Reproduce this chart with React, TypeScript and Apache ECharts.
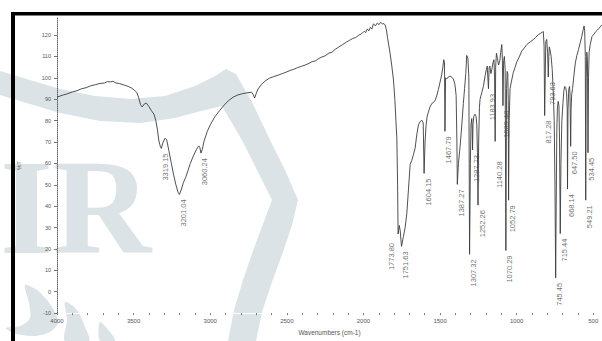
import React, { useEffect, useRef } from 'react';
import * as echarts from 'echarts';

// Continuous parts of the IR trace: [wavenumber (cm-1), %T]
const tracePoints: [number, number][] = [
  [4000, 91.0], [3960, 92.0], [3930, 92.6], [3900, 93.4], [3870, 94.0], [3840, 94.9],
  [3810, 95.4], [3780, 96.3], [3750, 96.8], [3720, 97.4], [3690, 97.6], [3670, 98.3],
  [3652, 98.1], [3635, 98.4], [3615, 97.6], [3590, 97.3], [3560, 96.6], [3535, 96.0],
  [3515, 95.3], [3495, 94.3], [3480, 93.2], [3468, 91.0], [3455, 87.5], [3444, 86.4],
  [3430, 87.8], [3417, 88.2], [3400, 86.6], [3385, 84.8], [3367, 83.0], [3355, 80.0],
  [3345, 76.0], [3335, 70.5], [3325, 67.8], [3310, 69.5], [3295, 71.8], [3284, 71.0],
  [3270, 66.0], [3255, 60.5], [3240, 55.0], [3225, 50.3], [3210, 46.5], [3190, 47.5],
  [3175, 51.0], [3160, 53.5], [3148, 56.0], [3130, 60.0], [3110, 63.5], [3090, 66.5],
  [3075, 68.2], [3068, 67.5], [3052, 66.5], [3040, 70.5], [3020, 74.8], [3000, 78.0],
  [2970, 81.8], [2940, 84.6], [2910, 87.2], [2880, 89.4], [2850, 91.0], [2820, 92.0],
  [2790, 92.6], [2760, 93.0], [2730, 93.3], [2718, 92.0], [2710, 90.6], [2700, 92.6],
  [2688, 94.8], [2665, 97.0], [2640, 98.6], [2615, 99.8], [2585, 100.6], [2555, 101.3],
  [2530, 102.0], [2500, 102.8], [2475, 103.6], [2455, 104.0], [2430, 104.8], [2405, 105.4],
  [2380, 106.0], [2355, 106.8], [2335, 107.6], [2315, 107.9], [2295, 108.9], [2270, 109.8],
  [2250, 110.3], [2225, 111.6], [2205, 112.0], [2185, 113.3], [2160, 114.5], [2135, 115.6],
  [2110, 116.8], [2090, 117.6], [2070, 118.4], [2050, 118.9], [2030, 120.0], [2012, 120.6],
  [2000, 121.5], [1995, 121.8], [1985, 121.2], [1975, 122.9], [1965, 122.0], [1955, 123.6],
  [1945, 122.8], [1935, 125.3], [1922, 124.3], [1910, 125.6], [1898, 124.9], [1888, 126.0],
  [1876, 125.2], [1866, 125.4], [1858, 124.6], [1850, 122.5], [1843, 119.0], [1837, 116.3],
  [1826, 111.5], [1815, 105.6], [1804, 99.0], [1795, 90.0], [1788, 80.0], [1782, 72.0],
  [1777, 50.0], [1766, 31.0], [1760, 28.5], [1739, 25.8], [1728, 30.0], [1717, 36.5],
  [1706, 48.0], [1695, 59.5], [1684, 61.5], [1674, 64.0], [1663, 67.0], [1652, 73.3],
  [1641, 78.0], [1630, 79.5], [1619, 80.2], [1610, 79.0], [1598, 70.0], [1591, 78.0],
  [1584, 82.0], [1576, 84.0], [1565, 86.5], [1554, 88.0], [1543, 88.5], [1532, 89.5],
  [1520, 92.0], [1511, 94.5], [1500, 98.0], [1489, 101.5], [1482, 105.0], [1476, 108.5],
  [1471, 107.0], [1464, 100.0], [1456, 99.5], [1445, 100.5], [1434, 100.8], [1423, 100.3],
  [1413, 99.5], [1403, 97.0], [1395, 91.8], [1390, 70.0], [1380, 60.0], [1369, 68.0],
  [1358, 78.0], [1348, 88.0], [1340, 95.0], [1332, 102.0], [1326, 110.5], [1318, 109.0],
  [1312, 100.0], [1302, 60.0], [1298, 78.0], [1293, 81.0], [1290, 76.0], [1285, 78.0],
  [1280, 82.0], [1272, 83.0], [1265, 82.0], [1260, 78.0], [1256, 65.0], [1248, 70.0],
  [1243, 86.0], [1239, 90.0], [1228, 93.0], [1217, 96.0], [1206, 101.0], [1198, 104.0],
  [1192, 105.5], [1188, 100.0], [1180, 104.5], [1175, 105.5], [1168, 102.0], [1162, 104.0],
  [1155, 107.0], [1148, 108.5], [1144, 100.0], [1137, 105.0], [1132, 111.5], [1125, 109.0],
  [1118, 106.0], [1110, 108.0], [1104, 112.0], [1097, 115.6], [1093, 108.0], [1085, 108.0],
  [1080, 110.0], [1075, 104.0], [1066, 95.0], [1062, 103.0], [1058, 102.0], [1055, 90.0],
  [1049, 80.0], [1043, 95.0], [1035, 98.0], [1022, 102.5], [1010, 105.0], [999, 107.5],
  [985, 109.5], [967, 112.5], [950, 114.0], [934, 115.6], [912, 116.8], [891, 117.9],
  [875, 119.0], [859, 120.2], [845, 120.8], [832, 121.4], [826, 121.7], [821, 114.8],
  [810, 117.0], [804, 118.0], [798, 112.0], [790, 110.0], [787, 114.5], [782, 113.0],
  [775, 110.0], [768, 104.0], [762, 95.0], [755, 80.0], [750, 50.0], [742, 40.0],
  [738, 75.0], [734, 86.0], [729, 89.0], [724, 87.0], [720, 70.0], [711, 60.0],
  [705, 80.0], [698, 88.0], [692, 94.0], [686, 96.0], [680, 95.5], [674, 93.0],
  [670, 85.0], [665, 85.0], [660, 94.5], [655, 96.0], [652, 93.0], [645, 85.0],
  [641, 92.0], [635, 95.0], [628, 100.0], [617, 107.0], [607, 110.5], [596, 113.3],
  [585, 116.5], [575, 119.4], [566, 122.5], [560, 124.3], [556, 122.0], [552, 110.0],
  [546, 100.0], [542, 112.0], [538, 108.0], [531, 100.0], [527, 112.0], [520, 115.5],
  [508, 119.4], [495, 120.5], [483, 121.7], [472, 122.4], [462, 123.2], [451, 124.2],
  [443, 124.8],
];

// Labelled absorption minima
const peakWavenumbers = [
  3319.15, 3201.04, 3060.24, 1773.8, 1751.63, 1604.15, 1467.79, 1387.27, 1307.32,
  1287.73, 1252.26, 1183.93, 1140.28, 1089.48, 1070.29, 1052.79, 817.28, 793.63,
  745.45, 715.44, 668.14, 647.5, 549.21, 534.45,
];
const peakTransmittance = [
  67.0, 45.5, 64.8, 27.0, 21.2, 55.3, 75.0, 50.2, 17.5,
  66.3, 40.5, 94.9, 70.3, 87.0, 19.3, 42.8, 82.4, 100.4,
  6.5, 27.2, 48.0, 68.0, 42.8, 65.0,
];

const xLabelValues = [4000, 3500, 3000, 2500, 2000, 1500, 1000, 500];
const yLabelValues = [-10, 0, 10, 20, 30, 40, 50, 60, 70, 80, 90, 100, 110, 120];

// Peak labels pushed away from their minimum, keyed by wavenumber: screen [dx, dy] in px
const labelNudges: Record<string, [number, number]> = {
  '1773.80': [-11, 4],
  '1140.28': [0, 15],
};

const WM = 'rgb(219,227,231)';

export default function App() {
  const ref = useRef<HTMLDivElement>(null);

  useEffect(() => {
    if (!ref.current) return;
    const chart = echarts.init(ref.current, null, { renderer: 'svg' });

    const peaks: [number, number][] = peakWavenumbers.map((w, i) => [w, peakTransmittance[i]]);
    const spectrum = [...tracePoints, ...peaks].sort((a, b) => b[0] - a[0]);
    const minorTicks: number[] = [];
    for (let v = 500; v <= 4000; v += 100) minorTicks.push(v);

    // label offsets are applied in the label's rotated (90°) frame
    const peakItems = peaks.map((p) => {
      const n = labelNudges[p[0].toFixed(2)];
      return n ? { value: p, label: { offset: [-n[1], n[0]] } } : { value: p };
    });

    chart.setOption({
      animation: false,
      backgroundColor: '#fff',
      textStyle: { fontFamily: 'Liberation Sans' },
      grid: { left: 57, right: 0, top: 18, bottom: 23 },
      xAxis: {
        type: 'value',
        min: 443,
        max: 4000,
        inverse: true,
        name: 'Wavenumbers (cm-1)',
        nameLocation: 'middle',
        nameGap: 15,
        nameTextStyle: { fontSize: 6.5, color: '#555' },
        axisLine: { show: true, onZero: false, lineStyle: { color: '#fff', width: 1 } },
        axisTick: { show: true, customValues: minorTicks, length: 2, lineStyle: { color: '#777', width: 1 } },
        axisLabel: {
          customValues: xLabelValues,
          fontSize: 6,
          color: '#555',
          margin: 5,
          formatter: (v: number) => String(v),
        },
        splitLine: { show: false },
      },
      yAxis: {
        type: 'value',
        min: -10,
        max: 128,
        name: '%T',
        nameLocation: 'middle',
        nameGap: 35,
        nameTextStyle: { fontSize: 6, color: '#555' },
        axisLine: { show: true, onZero: false, lineStyle: { color: '#666', width: 1, type: 'dotted' } },
        axisTick: { show: true, customValues: yLabelValues, length: 3, lineStyle: { color: '#777', width: 1 } },
        axisLabel: {
          customValues: yLabelValues,
          fontSize: 5.5,
          color: '#555',
          margin: 6,
          formatter: (v: number) => String(v),
        },
        splitLine: { show: false },
      },
      graphic: {
        elements: [
          {
            type: 'polygon',
            z: -1,
            silent: true,
            shape: {
              points: [
                [0, 71], [30, 80], [60, 89], [95, 96], [130, 99], [165, 96], [195, 86], [215, 76], [226, 69],
                [236, 74], [252, 102], [270, 140], [286, 172], [298, 200],
                [292, 225], [283, 252], [272, 282], [262, 312], [256, 341],
                [228, 341], [234, 310], [243, 280], [254, 248], [272, 200],
                [258, 172], [243, 142], [222, 106],
                [205, 110], [175, 118], [140, 123], [100, 121], [60, 113], [30, 104], [0, 95],
              ],
            },
            style: { fill: WM },
          },
          {
            type: 'polygon',
            z: -1,
            silent: true,
            shape: {
              smooth: 0.3,
              points: [[25, 285], [37, 290], [47, 300], [55, 312], [58, 323], [50, 332], [33, 336], [13, 333], [6, 328], [20, 326], [30, 318], [29, 303]],
            },
            style: { fill: WM },
          },
          {
            type: 'polygon',
            z: -1,
            silent: true,
            shape: { smooth: 0.3, points: [[65, 302], [77, 310], [85, 327], [89, 341], [65, 341], [67, 320]] },
            style: { fill: WM },
          },
          {
            type: 'polygon',
            z: -1,
            silent: true,
            shape: { smooth: 0.3, points: [[100, 322], [110, 332], [115, 341], [100, 341]] },
            style: { fill: WM },
          },
          {
            type: 'text',
            z: -1,
            silent: true,
            x: 0,
            y: 207,
            style: {
              text: 'IR',
              fill: WM,
              font: 'bold 136px "Liberation Serif"',
              textAlign: 'left',
              textVerticalAlign: 'middle',
            },
          },
          { type: 'rect', z: 100, silent: true, shape: { x: 11, y: 12, width: 591, height: 3.5 }, style: { fill: '#000' } },
          { type: 'rect', z: 100, silent: true, shape: { x: 11, y: 12, width: 4, height: 329 }, style: { fill: '#000' } },
        ],
      },
      series: [
        {
          type: 'line',
          data: spectrum,
          showSymbol: false,
          symbol: 'none',
          lineStyle: { color: '#3c3c3c', width: 0.9 },
          clip: true,
          z: 2,
        },
        {
          type: 'scatter',
          data: peakItems,
          symbolSize: 0,
          z: 3,
          label: {
            show: true,
            formatter: (p: any) => p.value[0].toFixed(2),
            position: 'bottom',
            distance: 5,
            rotate: 90,
            align: 'right',
            verticalAlign: 'top',
            fontSize: 7.5,
            color: '#4a4a4a',
          },
        },
      ],
    });

    return () => chart.dispose();
  }, []);

  return (
    <div
      ref={ref}
      style={{ position: 'fixed', left: 0, top: 0, width: 602, height: 341, background: '#fff' }}
    />
  );
}
